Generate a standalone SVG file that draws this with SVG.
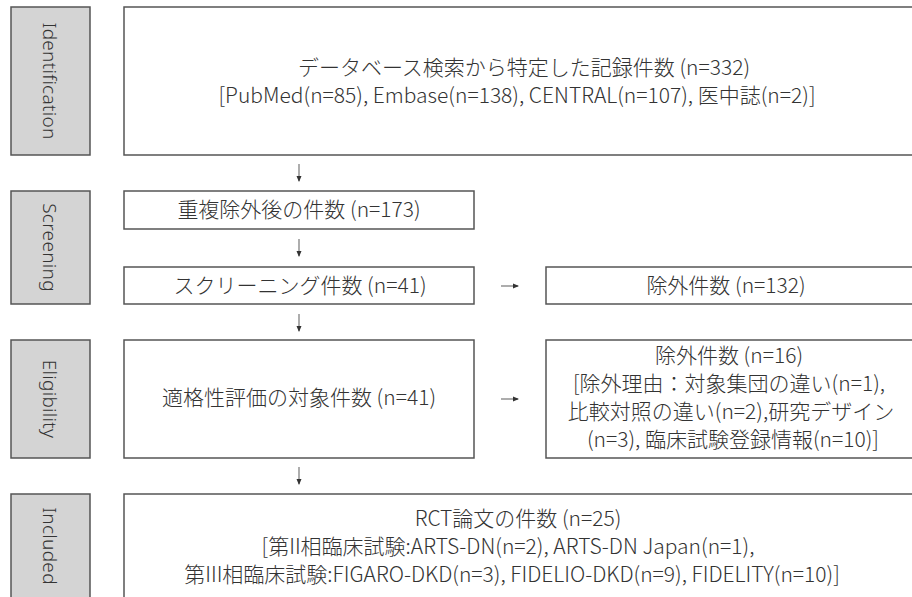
<svg xmlns="http://www.w3.org/2000/svg" width="912" height="597" viewBox="0 0 912 597">
<style>
.lbl rect{fill:#d4d4d4;stroke:#555;stroke-width:1.5}
.lbl text{font-family:"Noto Sans","Noto Sans CJK JP",sans-serif;font-weight:300;font-size:19px;fill:#333;letter-spacing:0.3px;text-anchor:middle;dominant-baseline:central}
.box rect{fill:#fff;stroke:#555;stroke-width:1.5}
.box text{font-family:"Noto Sans CJK JP","Noto Sans",sans-serif;font-weight:300;font-size:21px;fill:#333;text-anchor:middle}
.conn line{stroke:#777;stroke-width:1.2}
</style>
<defs>
<marker id="ah" viewBox="0 0 6 6" refX="5" refY="3" markerWidth="6" markerHeight="6" orient="auto" markerUnits="userSpaceOnUse">
<path d="M0,0.5 L6,3 L0,5.5 Z" fill="#333"/>
</marker>
</defs>
<rect width="912" height="597" fill="#fff"/>

<g id="label-identification" class="lbl"><rect x="11" y="7" width="79" height="148"/><text transform="translate(50,81) rotate(90)">Identification</text></g>
<g id="label-screening" class="lbl"><rect x="11" y="191" width="79" height="113"/><text transform="translate(50,247.5) rotate(90)">Screening</text></g>
<g id="label-eligibility" class="lbl"><rect x="11" y="340" width="79" height="118"/><text transform="translate(50,399) rotate(90)">Eligibility</text></g>
<g id="label-included" class="lbl"><rect x="11" y="494" width="79" height="110"/><text transform="translate(50,546) rotate(90)">Included</text></g>

<g id="node-identified" class="box"><rect x="124" y="7" width="792" height="148"/>
<text x="524" y="75">データベース検索から特定した記録件数 (n=332)</text>
<text x="517" y="103">[PubMed(n=85), Embase(n=138), CENTRAL(n=107), 医中誌(n=2)]</text></g>

<g id="node-dedup" class="box"><rect x="124" y="191" width="350" height="38"/>
<text x="299" y="217">重複除外後の件数 (n=173)</text></g>

<g id="node-screened" class="box"><rect x="124" y="267" width="350" height="37"/>
<text x="300" y="293">スクリーニング件数 (n=41)</text></g>

<g id="node-excluded1" class="box"><rect x="546" y="267" width="370" height="37"/>
<text x="726" y="293">除外件数 (n=132)</text></g>

<g id="node-eligible" class="box"><rect x="124" y="340" width="350" height="118"/>
<text x="299" y="405">適格性評価の対象件数 (n=41)</text></g>

<g id="node-excluded2" class="box"><rect x="546" y="340" width="370" height="118"/>
<text x="729" y="363">除外件数 (n=16)</text>
<text x="729" y="391">[除外理由：対象集団の違い(n=1),</text>
<text x="731" y="419">比較対照の違い(n=2),研究デザイン</text>
<text x="733" y="447">(n=3), 臨床試験登録情報(n=10)]</text></g>

<g id="node-included" class="box"><rect x="124" y="494" width="792" height="110"/>
<text x="518" y="526">RCT論文の件数 (n=25)</text>
<text x="508" y="554">[第II相臨床試験:ARTS-DN(n=2), ARTS-DN Japan(n=1),</text>
<text x="512" y="582">第III相臨床試験:FIGARO-DKD(n=3), FIDELIO-DKD(n=9), FIDELITY(n=10)]</text></g>

<g id="connectors" class="conn">
<line x1="299" y1="164" x2="299" y2="181" marker-end="url(#ah)"/>
<line x1="299" y1="239" x2="299" y2="256" marker-end="url(#ah)"/>
<line x1="299" y1="314" x2="299" y2="331" marker-end="url(#ah)"/>
<line x1="299" y1="467" x2="299" y2="484" marker-end="url(#ah)"/>
<line x1="501" y1="286" x2="518" y2="286" marker-end="url(#ah)"/>
<line x1="501" y1="399" x2="518" y2="399" marker-end="url(#ah)"/>
</g>
</svg>
